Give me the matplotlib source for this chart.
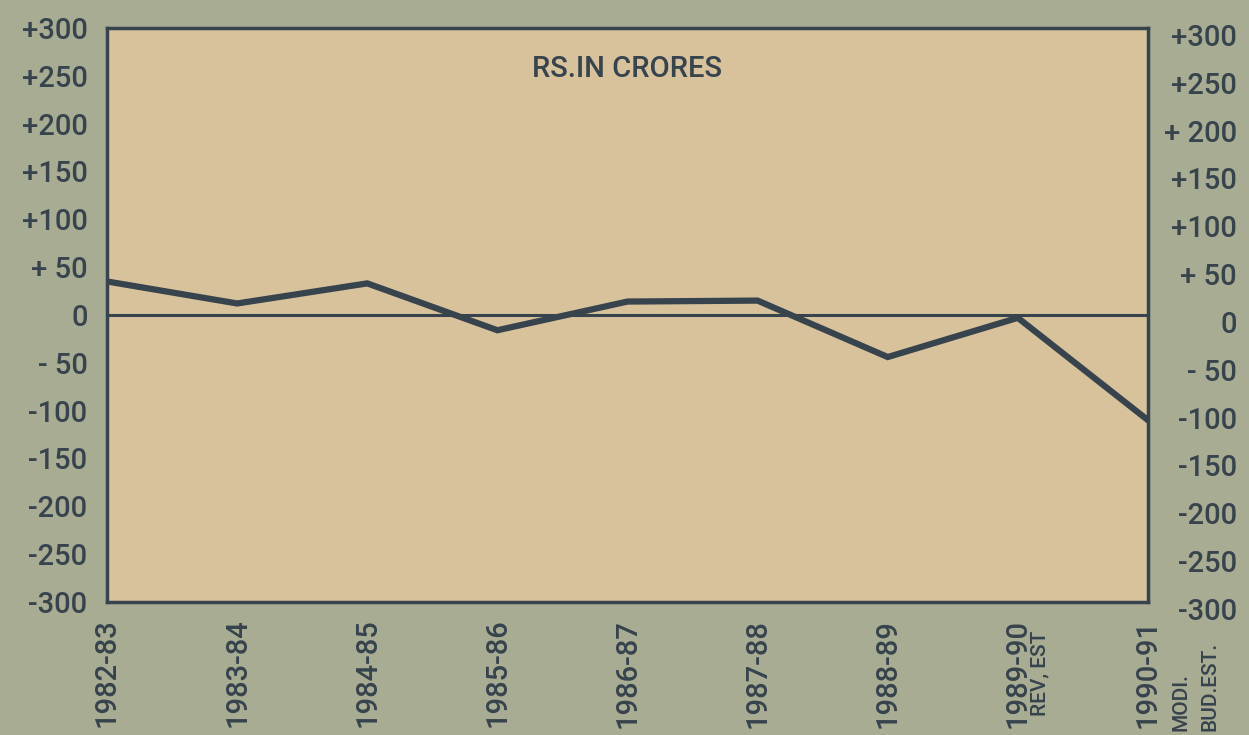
import matplotlib
matplotlib.use('Agg')
import matplotlib.pyplot as plt
import matplotlib.transforms as mtransforms

# deficit/surplus, Rs. in crores
years = ['1982-83', '1983-84', '1984-85', '1985-86', '1986-87',
         '1987-88', '1988-89', '1989-90', '1990-91']
values = [35, 12, 33, -16, 14, 15, -44, -3, -110]

yticks = [300, 250, 200, 150, 100, 50, 0, -50, -100, -150, -200, -250, -300]
left_labels = ['+300', '+250', '+200', '+150', '+100', '+ 50', '0',
               '- 50', '-100', '-150', '-200', '-250', '-300']
right_labels = ['+300', '+250', '+ 200', '+150', '+100', '+ 50', '0',
                '- 50', '-100', '-150', '-200', '-250', '-300']

bg = '#a8ac93'
panel = '#d7c29c'
ink = '#37434d'
fam = ['Roboto', 'DejaVu Sans']

fig = plt.figure(figsize=(12.49, 7.35), dpi=100, facecolor=bg)
ax = fig.add_axes([0.0857, 0.181, 0.8334, 0.781])
ax.set_facecolor(panel)

x = list(range(len(years)))
ax.plot(x, values, color=ink, lw=4.5, solid_joinstyle='miter')
ax.axhline(0, color=ink, lw=2.2)

ax.set_xlim(0, len(years) - 1)
ax.set_ylim(-300, 300)

for s in ax.spines.values():
    s.set_color(ink)
    s.set_linewidth(2.5)

ax.set_yticks(yticks)
ax.set_yticklabels(left_labels, family=fam, fontsize=21, color=ink, weight='medium')
ax.tick_params(axis='y', length=0, pad=14)

ax2 = ax.twinx()
ax2.set_ylim(-300, 300)
ax2.set_yticks(yticks)
ax2.set_yticklabels(right_labels, family=fam, fontsize=21, color=ink, weight='medium')
ax2.tick_params(axis='y', length=0, pad=64)
# right-hand scale sits a little lower in the original
shift = mtransforms.ScaledTranslation(0, -7 / 100, fig.dpi_scale_trans)
for lab in ax2.get_yticklabels():
    lab.set_horizontalalignment('right')
    lab.set_transform(lab.get_transform() + shift)
for s in ax2.spines.values():
    s.set_visible(False)

ax.set_xticks(x)
ax.set_xticklabels(years, rotation=90, family=fam, fontsize=21, color=ink, weight='medium')
ax.tick_params(axis='x', length=0, pad=12)

ax.text(0.5, 0.928, 'RS.IN CRORES', transform=ax.transAxes, ha='center', va='center',
        family=fam, fontsize=21, color=ink, weight='medium')

# small notes beside the last two years
fig.text(1040 / 1249, 1 - 716 / 735, 'REV, EST', rotation=90, ha='center', va='bottom',
         family=fam, fontsize=15, color=ink, weight='medium')
fig.text(1181 / 1249, 1 - 731 / 735, 'MODI.', rotation=90, ha='center', va='bottom',
         family=fam, fontsize=15, color=ink, weight='medium')
fig.text(1210 / 1249, 1 - 731 / 735, 'BUD.EST.', rotation=90, ha='center', va='bottom',
         family=fam, fontsize=15, color=ink, weight='medium')

fig.savefig('out.png', dpi=100, facecolor=bg)
